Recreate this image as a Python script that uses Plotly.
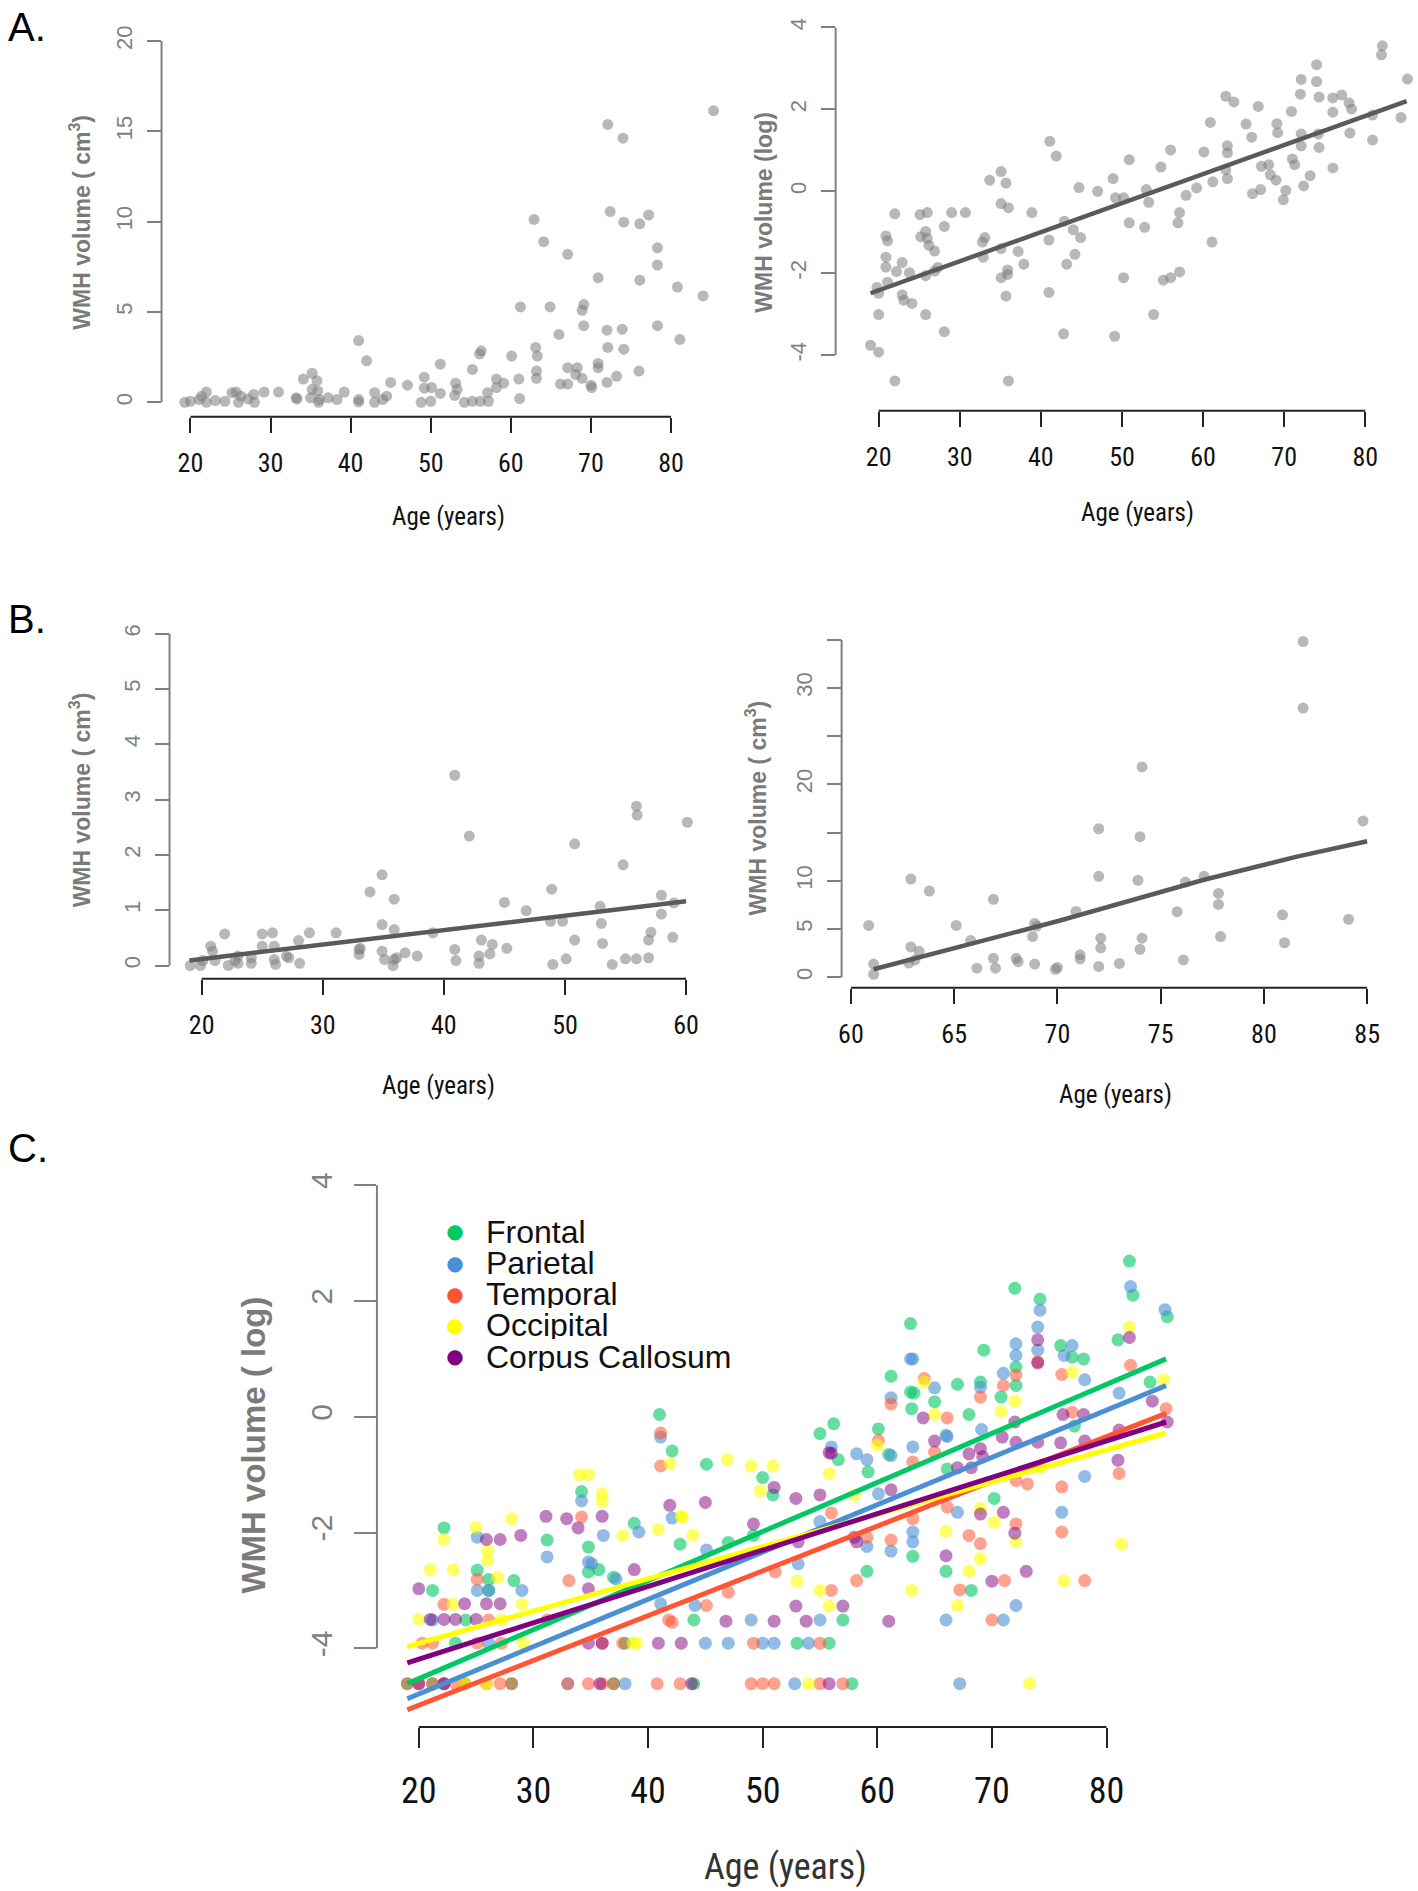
import plotly.graph_objects as go

W, H = 1418, 1891

# ---------------- data ----------------
# A (left): WMH volume (cm3) vs age
a_age = [19.3, 20.0, 21.1, 21.4, 22.0, 22.0, 23.1, 24.3, 25.2, 25.7, 26.0, 26.3, 27.2, 27.9, 28.0, 29.2,
         31.0, 33.2, 33.3, 34.1, 35.2, 35.2, 35.0, 35.8, 35.9, 36.0, 36.1, 37.2, 38.3, 39.2, 41.0, 41.0,
         41.0, 42.0, 43.0, 43.0, 44.0, 44.5, 45.0, 47.1, 48.8, 49.2, 49.2, 50.1, 50.0, 51.2, 51.2, 53.0,
         53.1, 53.3, 54.2, 55.2, 55.2, 56.1, 56.3, 56.2, 57.1, 57.2, 58.2, 58.2, 59.1, 60.1, 61.0, 61.1,
         61.2, 62.9, 63.1, 63.3, 63.2, 63.2, 64.1, 64.9, 66.0, 66.2, 67.1, 67.1, 67.1, 68.1, 68.3, 68.9,
         69.1, 68.9, 69.1, 70.0, 70.1, 70.9, 70.9, 70.9, 72.0, 72.1, 72.1, 72.4, 72.0, 73.2, 74.0, 74.1,
         73.9, 74.1, 76.1, 76.1, 76.0, 77.2, 78.3, 78.3, 78.3, 80.8, 81.1, 84.0, 85.3]
a_vol = [0.0, 0.06, 0.15, 0.34, 0.57, 0.0, 0.1, 0.06, 0.53, 0.57, 0.0, 0.34, 0.19, 0.44, 0.0, 0.57,
         0.57, 0.25, 0.19, 1.29, 1.61, 0.72, 0.25, 1.2, 0.63, 0.0, 0.15, 0.25, 0.15, 0.57, 3.42, 0.15,
         0.02, 2.3, 0.53, 0.0, 0.15, 0.34, 1.1, 0.95, 0.0, 1.39, 0.78, 0.82, 0.06, 2.11, 0.49, 0.38,
         1.06, 0.72, 0.0, 1.82, 0.06, 2.68, 2.85, 0.06, 0.53, 0.06, 1.29, 0.82, 1.06, 2.56, 1.29, 0.21,
         5.28, 10.12, 3.04, 2.56, 1.73, 1.33, 8.89, 5.28, 3.76, 1.01, 8.19, 1.92, 1.01, 1.54, 1.92, 1.33,
         5.41, 5.09, 4.24, 0.95, 0.82, 6.89, 2.15, 1.92, 3.99, 3.04, 15.38, 10.56, 1.1, 1.44, 14.62, 9.97,
         4.05, 2.94, 9.88, 6.76, 1.73, 10.37, 8.55, 7.6, 4.24, 6.38, 3.48, 5.89, 16.14]

# A (right): log WMH volume vs age, with fitted line
al_age = [19.0, 20.0, 20.0, 19.8, 20.0, 20.9, 21.1, 20.9, 20.9, 21.1, 22.0, 22.0, 22.2, 22.9, 22.9, 23.1,
          23.8, 24.1, 25.1, 25.2, 25.8, 26.0, 26.0, 26.2, 25.8, 25.8, 26.9, 26.9, 27.3, 28.1, 28.1, 29.0,
          30.7, 32.8, 33.1, 32.9, 33.7, 35.1, 35.1, 35.1, 35.1, 35.7, 36.0, 35.9, 35.9, 35.7, 36.0, 37.2,
          37.9, 38.9, 41.1, 41.0, 41.0, 41.9, 42.9, 43.2, 42.8, 44.0, 44.2, 44.7, 44.9, 47.0, 48.9, 49.2,
          49.1, 50.2, 50.2, 50.9, 50.9, 52.8, 53.0, 53.3, 53.9, 54.8, 55.1, 56.0, 56.0, 57.1, 56.9, 57.1,
          57.9, 59.2, 60.1, 60.9, 61.1, 61.2, 62.8, 63.0, 63.0, 62.8, 63.0, 63.8, 65.3, 66.0, 66.1, 66.8,
          67.1, 67.2, 68.1, 68.3, 69.0, 69.1, 69.2, 69.9, 70.2, 70.9, 71.0, 71.3, 72.0, 72.1, 72.1, 72.1,
          72.4, 73.2, 74.0, 74.0, 74.3, 74.2, 74.3, 76.0, 76.0, 76.0, 77.1, 78.0, 78.3, 78.1, 80.9, 80.9,
          82.1, 82.0, 84.4, 85.2]
al_val = [-3.76, -3.93, -3.01, -2.35, -2.49, -1.09, -1.21, -1.61, -1.85, -2.22, -0.55, -4.63, -1.96, -1.74,
          -2.53, -2.66, -1.99, -2.74, -0.57, -1.11, -0.98, -0.52, -1.15, -1.32, -3.01, -2.06, -1.46, -1.95,
          -1.86, -0.86, -3.43, -0.52, -0.52, -1.24, -1.13, -1.61, 0.27, 0.48, -0.30, -1.40, -2.11, 0.20,
          -0.40, -1.92, -2.03, -2.56, -4.63, -1.47, -1.78, -0.52, 1.22, -1.19, -2.47, 0.86, -0.73, -1.78,
          -3.48, -0.94, -1.54, 0.09, -1.13, 0.0, 0.31, -0.16, -3.54, -0.16, -2.11, 0.77, -0.77, -0.88,
          0.04, -0.27, -3.01, 0.59, -2.17, 1.01, -2.11, -0.52, -0.77, -1.97, -0.10, 0.08, 0.96, 1.68,
          -1.24, 0.23, 2.32, 1.11, 0.94, 0.52, 0.31, 2.18, 1.64, 1.32, -0.06, 2.07, 0.04, 0.61, 0.65,
          0.40, 0.27, 1.65, 1.43, -0.21, 0.02, 1.95, 0.79, 0.65, 2.37, 2.73, 1.40, 1.11, 0.13, 0.38,
          3.09, 2.68, 2.30, 1.40, 1.07, 2.28, 1.93, 0.57, 2.35, 2.16, 2.01, 1.42, 1.86, 1.25, 3.55,
          3.33, 1.80, 2.74]
al_fit_age = [19.0, 85.1]
al_fit_val = [-2.49, 2.20]

# B (left): younger group, WMH volume (cm3) vs age
b1_age = [19.06, 19.9, 20.1, 20.75, 20.9, 21.1, 21.9, 22.2, 22.75, 23.0, 23.0, 24.1, 24.1, 25.0, 25.0,
          25.85, 26.0, 26.0, 26.1, 27.0, 27.2, 28.0, 28.1, 28.9, 31.1, 33.0, 33.0, 33.1, 33.9, 34.9, 34.9,
          34.9, 35.1, 35.9, 35.9, 35.9, 35.8, 36.1, 36.8, 37.8, 39.1, 40.9, 40.9, 41.0, 42.1, 42.9, 42.9,
          43.1, 43.8, 44.0, 45.0, 45.2, 46.8, 48.9, 48.8, 49.0, 49.8, 50.1, 50.8, 50.8, 52.9, 53.0, 53.1,
          53.9, 54.8, 55.0, 55.9, 55.96, 55.9, 56.9, 56.9, 57.1, 57.96, 57.96, 58.9, 59.0, 60.1]
b1_vol = [0.0, 0.0, 0.09, 0.35, 0.26, 0.09, 0.57, 0.0, 0.09, 0.17, 0.04, 0.14, 0.04, 0.57, 0.35,
          0.59, 0.35, 0.11, 0.02, 0.17, 0.14, 0.45, 0.04, 0.59, 0.59, 0.29, 0.2, 0.31, 1.33, 1.64, 0.74,
          0.26, 0.11, 1.2, 0.65, 0.11, 0.0, 0.14, 0.23, 0.17, 0.59, 3.44, 0.29, 0.09, 2.34, 0.04, 0.17,
          0.46, 0.21, 0.38, 1.14, 0.31, 0.99, 1.38, 0.8, 0.02, 0.8, 0.12, 2.2, 0.46, 1.07, 0.76, 0.4,
          0.02, 1.82, 0.12, 2.88, 2.72, 0.12, 0.14, 0.46, 0.6, 1.27, 0.93, 0.51, 1.13, 2.59]
b1_fit_age = [19.0, 60.0]
b1_fit_vol = [0.09, 1.16]

# B (right): older group, WMH volume (cm3) vs age
b2_age = [60.86, 61.1, 61.1, 62.9, 63.8, 62.9, 63.3, 63.1, 62.8, 65.1, 65.8, 66.1, 66.9, 66.9, 67.0,
          68.0, 68.1, 68.8, 68.9, 69.0, 68.9, 69.9, 70.0, 70.9, 71.1, 71.1, 72.0, 72.0, 72.1, 72.1, 72.0,
          73.0, 74.0, 74.1, 73.9, 74.1, 74.0, 75.8, 76.1, 76.2, 77.1, 77.8, 77.8, 77.9, 80.9, 81.0, 81.9,
          81.9, 84.1, 84.8]
b2_vol = [5.36, 1.36, 0.29, 10.18, 8.93, 3.14, 2.68, 1.79, 1.46, 5.36, 3.79, 0.93, 8.07, 1.96, 0.93,
          1.96, 1.61, 4.21, 5.57, 5.29, 1.36, 0.82, 1.0, 6.82, 2.32, 1.89, 15.39, 10.46, 4.04, 3.04, 1.11,
          1.43, 14.57, 21.8, 10.04, 4.04, 2.89, 6.79, 1.79, 9.86, 10.46, 8.68, 7.54, 4.21, 6.46, 3.57, 34.8,
          27.9, 6.0, 16.2]
b2_fit_age = [61.1, 70.0, 77.1, 81.6, 85.0]
b2_fit_vol = [0.82, 5.8, 10.1, 12.5, 14.1]

# C: regional log WMH volume vs age
frontal_age = [19.0, 21.2, 24.0, 28.1, 37.0, 44.0, 57.8, 23.2, 38.0, 53.0, 55.8, 24.1, 44.0, 57.0, 21.2,
               26.1, 68.2, 22.2, 25.1, 26.1, 28.3, 31.2, 34.2, 34.8, 34.8, 35.7, 37.0, 38.8, 41.0, 42.1,
               42.8, 45.1, 47.0, 49.2, 50.0, 50.9, 55.0, 56.2, 56.6, 59.1, 59.2, 60.1, 61.2, 62.9, 62.9,
               63.2, 63.0, 63.1, 65.0, 66.1, 66.0, 67.0, 68.0, 69.3, 69.0, 70.8, 70.2, 72.0, 72.1, 72.1,
               74.2, 76.0, 77.0, 77.2, 78.0, 81.0, 82.0, 82.3, 83.8, 85.3, 61.0]
frontal_val = [-4.61, -4.61, -4.61, -4.61, -4.61, -4.61, -4.61, -3.91, -3.91, -3.91, -3.91, -3.51, -3.51,
               -3.51, -3.0, -3.0, -3.0, -1.92, -2.65, -2.81, -2.83, -2.13, -1.29, -2.25, -2.68, -2.64,
               -2.77, -1.84, 0.04, -0.59, -2.2, -0.82, -2.17, -2.05, -1.05, -1.35, -0.29, -0.12, -0.74,
               -2.67, -0.95, -0.21, 0.7, 1.61, 0.43, 0.41, 0.14, -2.41, 0.26, -0.9, -2.67, 0.56, 0.04,
               1.15, 0.6, 0.34, -1.41, 2.22, 0.86, 0.54, 2.03, 1.23, 1.03, -0.16, 1.0, 1.33, 2.69, 2.1,
               0.6, 1.73, -0.65]
parietal_age = [22.2, 33.0, 38.0, 52.8, 67.2, 26.1, 45.0, 47.0, 50.0, 51.0, 54.0, 49.0, 55.0, 66.0, 71.0,
                21.2, 25.1, 25.1, 26.1, 29.0, 31.2, 34.2, 34.8, 35.1, 36.1, 37.2, 39.2, 41.1, 41.1, 42.1,
                44.1, 45.1, 53.1, 56.0, 58.2, 59.1, 59.1, 60.1, 61.2, 61.2, 61.2, 62.9, 63.1, 63.1, 63.1,
                63.1, 65.0, 66.1, 67.0, 69.0, 71.0, 72.1, 72.1, 72.1, 74.2, 74.0, 74.0, 76.3, 76.1, 77.0,
                78.1, 78.1, 81.1, 82.1, 85.1, 66.0, 69.1, 55.0]
parietal_val = [-4.61, -4.61, -4.61, -4.61, -4.61, -3.91, -3.91, -3.91, -3.91, -3.91, -3.91, -3.51, -3.51,
                -3.51, -3.51, -3.51, -2.08, -3.0, -3.0, -3.0, -2.42, -1.45, -2.51, -2.54, -2.05, -2.80,
                -1.99, -0.35, -3.23, -1.75, -3.26, -2.3, -2.54, -0.52, -0.64, -0.74, -2.24, -1.33, 0.33,
                -2.32, -0.67, 1.0, 1.0, -0.52, -1.99, -2.16, 0.5, -0.34, -1.65, 0.51, 0.75, 1.26, 1.06,
                -3.26, 1.84, 1.55, 1.15, 1.06, -1.65, 1.23, 0.64, -1.03, 0.41, 2.25, 1.85, -0.32, -0.22,
                -1.81]
temporal_age = [19.0, 20.0, 21.2, 22.2, 23.2, 24.0, 25.9, 27.1, 28.1, 33.0, 34.8, 36.0, 37.0, 40.8, 42.8,
                49.0, 50.0, 51.0, 55.0, 57.0, 20.3, 21.2, 25.1, 27.2, 36.0, 37.8, 49.2, 55.0, 41.8, 70.0,
                26.1, 31.2, 22.2, 25.1, 33.1, 34.2, 41.1, 41.1, 45.1, 47.0, 42.1, 51.1, 56.0, 56.0, 58.2,
                59.1, 60.1, 61.2, 61.2, 64.1, 65.0, 66.1, 66.1, 67.2, 68.0, 69.0, 69.0, 71.0, 71.1, 72.1,
                72.1, 72.1, 73.1, 76.1, 76.1, 76.1, 77.0, 78.1, 81.1, 82.1, 85.2, 63.1, 63.1, 74.0]
temporal_val = [-4.61, -4.61, -4.61, -4.61, -4.61, -4.61, -4.61, -4.61, -4.61, -4.61, -4.61, -4.61, -4.61,
                -4.61, -4.61, -4.61, -4.61, -4.61, -4.61, -4.61, -3.91, -3.91, -3.91, -3.91, -3.91, -3.91,
                -3.91, -3.91, -3.51, -3.51, -3.51, -3.51, -3.24, -2.81, -2.83, -1.73, -0.28, -0.85, -3.26,
                -3.03, -3.55, -2.68, -1.66, -3.0, -2.83, -2.08, -0.41, 0.22, -2.13, 0.66, -0.61, -0.02,
                -1.56, -2.99, -2.05, 0.34, -2.19, 0.54, -2.83, 0.72, -1.1, -1.85, -1.16, 0.73, -1.21,
                -1.99, 0.08, -2.83, -0.98, 0.89, 0.14, -0.78, -1.76, 0.95]
occipital_age = [20.0, 21.0, 22.2, 23.0, 25.0, 26.0, 26.0, 26.9, 28.1, 29.1, 25.9, 24.0, 23.0, 29.0, 34.0,
                 34.8, 36.0, 36.0, 37.8, 38.7, 40.9, 41.9, 42.9, 43.9, 46.9, 49.0, 50.9, 49.8, 43.0, 53.0,
                 55.0, 55.8, 55.8, 60.0, 58.0, 65.0, 70.8, 72.0, 77.0, 82.0, 85.0, 69.0, 66.0, 67.0, 68.0,
                 73.3, 76.3, 81.3, 63.0, 74.2, 64.1, 69.0, 70.2, 72.1, 39.0, 27.2, 54.0]
occipital_val = [-3.5, -2.64, -2.12, -2.64, -1.91, -2.31, -2.48, -2.77, -1.76, -3.91, -4.61, -4.61, -3.24,
                 -3.24, -1.0, -1.0, -1.33, -1.46, -2.05, -3.91, -1.95, -0.81, -1.72, -2.04, -0.74, -0.85,
                 -0.85, -1.28, -1.74, -2.84, -3.0, -3.27, -0.98, -0.49, -1.35, 0.04, 0.09, 0.27, 0.77,
                 1.55, 0.64, -1.58, -1.98, -3.26, -2.67, -4.61, -2.84, -2.2, -3.0, -0.88, 0.6, -2.45,
                 -1.82, -2.16, -3.91, -3.51, -4.61]
callosum_age = [20.0, 21.0, 22.2, 23.2, 24.0, 25.0, 25.9, 27.1, 25.9, 27.1, 28.9, 31.1, 32.9, 33.9, 36.0,
                34.8, 38.8, 41.9, 40.9, 42.9, 34.8, 36.0, 45.0, 46.8, 51.0, 52.9, 53.8, 57.0, 51.0, 52.9,
                55.0, 55.8, 61.0, 58.0, 64.0, 65.0, 67.0, 66.0, 69.0, 70.0, 71.0, 72.0, 72.0, 73.0, 74.0,
                74.0, 76.0, 76.2, 78.0, 81.0, 82.0, 84.0, 85.3, 69.2, 35.8, 43.8, 55.8, 20.0, 22.2, 49.2,
                53.1, 58.2, 61.2, 56.0, 68.0, 68.2, 69.0, 70.9, 72.1, 81.1, 78.1, 74.0]
callosum_val = [-2.97, -3.5, -3.5, -3.5, -3.23, -3.5, -3.23, -3.23, -2.12, -2.12, -2.05, -1.72, -1.76,
                -1.92, -1.72, -2.97, -2.64, -1.53, -3.91, -3.91, -3.91, -3.91, -1.48, -3.53, -3.53, -3.27,
                -3.53, -3.27, -1.22, -1.41, -1.35, -0.62, -3.53, -2.08, -0.02, -0.42, -0.88, -2.4, -1.68,
                -2.84, -1.65, -0.09, -2.01, -2.67, 1.33, 0.93, -0.45, 0.04, 0.04, -0.75, 1.37, 0.27, -0.09,
                -0.69, -4.61, -4.61, -4.61, -4.61, -4.61, -1.85, -2.16, -2.16, -1.26, -0.63, -0.64, -0.88,
                -0.55, -0.35, -0.44, -0.23, -0.42, -0.44]

# fitted lines for C (start and end of each fit)
fit_age = [19.0, 85.2]
frontal_fit = [-4.61, 1.0]
parietal_fit = [-4.87, 0.54]
temporal_fit = [-5.06, 0.06]
occipital_fit = [-3.97, -0.28]
callosum_fit = [-4.25, -0.09]

region_names = ["Frontal", "Parietal", "Temporal", "Occipital", "Corpus Callosum"]

# ---------------- layout helpers ----------------
NARROW = "Liberation Sans Narrow, Arial Narrow, Roboto Condensed, sans-serif"
SANS = "Liberation Sans, Arial, sans-serif"
GREY = "#808080"
PT_GREY = "rgba(125,125,125,0.55)"
FIT_GREY = "#5a5a5a"

region_colors = ["#00c864", "#4a8fd4", "#ff5533", "#ffff00", "#800080"]
region_fill = ["rgba(0,200,100,0.6)", "rgba(74,143,212,0.6)", "rgba(255,85,51,0.55)",
               "rgba(255,255,0,0.6)", "rgba(128,0,128,0.5)"]


def fx(p):
    return p / W


def fy(p):
    return 1 - p / H


# pixel box (left, top, right, bottom), axis ranges, ticks
panels = [
    dict(box=(158, 25.5, 730, 416), xr=[16.4, 87.6], yr=[-0.8, 20.8],
         xt=[20, 30, 40, 50, 60, 70, 80], yt=[0, 5, 10, 15, 20], minor=None, big=False),
    dict(box=(834, 11.7, 1418, 410), xr=[14.7, 86.5], yr=[-5.36, 4.36],
         xt=[20, 30, 40, 50, 60, 70, 80], yt=[-4, -2, 0, 2, 4], minor=None, big=False),
    dict(box=(166, 619.7, 706.5, 978.3), xr=[17.35, 61.85], yr=[-0.24, 6.24],
         xt=[20, 30, 40, 50, 60], yt=[0, 1, 2, 3, 4, 5, 6], minor=None, big=False),
    dict(box=(840, 627.4, 1387.7, 987.3), xr=[59.55, 86.0], yr=[-1.1, 36.2],
         xt=[60, 65, 70, 75, 80, 85], yt=[0, 5, 10, 20, 30], minor=[15, 25, 35], big=False),
    dict(box=(374, 1164, 1197, 1727), xr=[16.35, 87.95], yr=[-5.36, 4.36],
         xt=[20, 30, 40, 50, 60, 70, 80], yt=[-4, -2, 0, 2, 4], minor=None, big=True),
]

fig = go.Figure()
layout = dict(width=W, height=H, margin=dict(l=0, r=0, t=0, b=0),
              paper_bgcolor="white", plot_bgcolor="white", showlegend=False)
shapes = []
annotations = []

for i, p in enumerate(panels, start=1):
    l, t, r, b = p["box"]
    big = p["big"]
    xs = "" if i == 1 else str(i)
    ylen = 22 if big else 14
    layout["xaxis" + xs] = dict(
        domain=[fx(l), fx(r)], range=p["xr"], anchor="y" + xs,
        showgrid=False, zeroline=False, showline=False,
        tickvals=p["xt"], ticks="outside", ticklen=20 if big else 15,
        tickwidth=2, tickcolor="#222",
        tickfont=dict(family=NARROW, size=36 if big else 26, color="#111"),
        ticklabelstandoff=12 if big else 8,
    )
    yax = dict(
        domain=[fy(b), fy(t)], range=p["yr"], anchor="x" + xs,
        showgrid=False, zeroline=False, showline=False,
        tickvals=p["yt"], ticktext=[str(v) for v in p["yt"]],
        ticks="outside", ticklen=ylen, tickwidth=2, tickcolor=GREY,
        tickangle=-90,
        tickfont=dict(family=SANS, size=30 if big else 22, color=GREY),
        ticklabelstandoff=10 if big else 6,
    )
    if p["minor"]:
        yax["minor"] = dict(tickmode="array", tickvals=p["minor"], ticks="outside",
                            ticklen=ylen, tickwidth=2, tickcolor=GREY, showgrid=False)
    layout["yaxis" + xs] = yax
    ytop = max(p["yt"] + (p["minor"] or []))
    # R-style axis lines spanning first to last tick
    shapes.append(dict(type="line", xref="x" + xs, yref="y" + xs + " domain",
                       x0=p["xt"][0], x1=p["xt"][-1], y0=0, y1=0,
                       line=dict(color="#222", width=2)))
    shapes.append(dict(type="line", xref="x" + xs + " domain", yref="y" + xs,
                       x0=0, x1=0, y0=p["yt"][0], y1=ytop,
                       line=dict(color=GREY, width=2)))


def pts(x, y, ax, color, size=11):
    xs = "" if ax == 1 else str(ax)
    return go.Scatter(x=x, y=y, mode="markers", xaxis="x" + xs, yaxis="y" + xs,
                      marker=dict(size=size, color=color, line=dict(width=0)),
                      cliponaxis=False, hoverinfo="skip")


def fit(x, y, ax, color, width=4.5):
    xs = "" if ax == 1 else str(ax)
    return go.Scatter(x=x, y=y, mode="lines", xaxis="x" + xs, yaxis="y" + xs,
                      line=dict(color=color, width=width), cliponaxis=False, hoverinfo="skip")


fig.add_trace(pts(a_age, a_vol, 1, PT_GREY))
fig.add_trace(pts(al_age, al_val, 2, PT_GREY))
fig.add_trace(fit(al_fit_age, al_fit_val, 2, FIT_GREY))
fig.add_trace(pts(b1_age, b1_vol, 3, PT_GREY))
fig.add_trace(fit(b1_fit_age, b1_fit_vol, 3, FIT_GREY))
fig.add_trace(pts(b2_age, b2_vol, 4, PT_GREY))
fig.add_trace(fit(b2_fit_age, b2_fit_vol, 4, FIT_GREY))

region_pts = [(frontal_age, frontal_val), (parietal_age, parietal_val), (temporal_age, temporal_val),
              (occipital_age, occipital_val), (callosum_age, callosum_val)]
region_fits = [frontal_fit, parietal_fit, temporal_fit, occipital_fit, callosum_fit]
for (x, y), c in zip(region_pts, region_fill):
    fig.add_trace(pts(x, y, 5, c, size=13))
for yf, c in zip(region_fits, region_colors):
    fig.add_trace(fit(fit_age, yf, 5, c, width=5))

# axis titles
ytitle_cm = "WMH volume ( cm<sup>3</sup>)"
title_specs = [
    (76, 221, ytitle_cm, 23), (762, 211, "WMH volume (log)", 23),
    (76, 799, ytitle_cm, 23), (754, 807, ytitle_cm, 23),
    (250, 1445, "WMH volume ( log)", 33),
]
for x, y, text, size in title_specs:
    annotations.append(dict(x=fx(x), y=fy(y), xref="paper", yref="paper", text="<b>" + text + "</b>",
                            showarrow=False, textangle=-90, xanchor="center", yanchor="middle",
                            font=dict(family=SANS, size=size, color="#7a7a7a")))
for x, y, size, col in [(446, 516, 25, "#111"), (1137, 512, 25, "#111"), (436, 1085, 25, "#111"),
                        (1115, 1094, 25, "#111"), (784, 1867, 36, "#333")]:
    annotations.append(dict(x=fx(x), y=fy(y), xref="paper", yref="paper", text="Age (years)",
                            showarrow=False, xanchor="center", yanchor="middle",
                            font=dict(family=NARROW, size=size, color=col)))

# panel letters
for x, y, s in [(2, 26, "A."), (2, 618, "B."), (2, 1148, "C.")]:
    annotations.append(dict(x=fx(x), y=fy(y), xref="paper", yref="paper", text=s, showarrow=False,
                            xanchor="left", yanchor="middle", font=dict(family=SANS, size=40, color="black")))

# legend for panel C (rows are tighter than the text height, as in the original)
for k, (name, col) in enumerate(zip(region_names, region_colors)):
    yy = 1231 + 31.2 * k
    annotations.append(dict(x=fx(452), y=fy(yy), xref="paper", yref="paper", text="\u25CF",
                            showarrow=False, xanchor="center", yanchor="middle", height=24, width=18,
                            font=dict(family="DejaVu Sans", size=20, color=col)))
    annotations.append(dict(x=fx(481), y=fy(yy), xref="paper", yref="paper", text=name,
                            showarrow=False, xanchor="left", yanchor="middle", height=29,
                            font=dict(family=SANS, size=32, color="#111")))

layout["shapes"] = shapes
layout["annotations"] = annotations
fig.update_layout(**layout)
fig.write_html("out.html", config={"displayModeBar": False},
               post_script="document.body.style.margin='0';document.body.style.padding='0';")
